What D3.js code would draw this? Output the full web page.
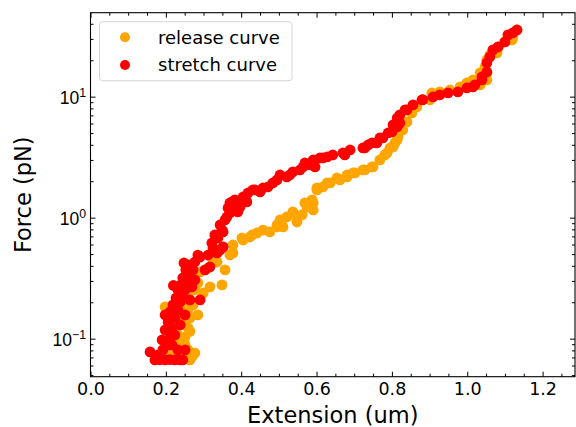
<!DOCTYPE html>
<html>
<head>
<meta charset="utf-8">
<script src="https://cdn.jsdelivr.net/npm/d3@7"></script>
<style>
  body { margin: 0; background: #fff; }
  svg { display: block; font-family: "DejaVu Sans", sans-serif; }
</style>
</head>
<body>
<svg width="576" height="427"></svg>
<script>
// release curve (orange), extension in um, force in pN
const releaseExt = [0.184, 0.198, 0.211, 0.224, 0.238, 0.251, 0.264, 0.269,
  0.206, 0.224, 0.245, 0.211, 0.232, 0.251, 0.224, 0.243, 0.259, 0.198, 0.232, 0.264,
  0.285, 0.251, 0.272, 0.238, 0.259, 0.277, 0.264, 0.285, 0.317, 0.349, 0.291, 0.312,
  0.336, 0.322, 0.357, 0.370, 0.378, 0.378, 0.402, 0.405, 0.423, 0.429, 0.442, 0.476,
  0.495, 0.495, 0.511, 0.503, 0.521, 0.537, 0.548, 0.548, 0.569, 0.575, 0.588, 0.591,
  0.591, 0.601, 0.601, 0.617, 0.628, 0.636, 0.654, 0.662, 0.681, 0.681, 0.697, 0.702,
  0.723, 0.728, 0.747, 0.750, 0.768, 0.781, 0.787, 0.795, 0.803, 0.808, 0.814, 0.816,
  0.829, 0.840, 0.853, 0.866, 0.880, 0.901, 0.906, 0.927, 0.933, 0.954, 0.981, 0.999,
  1.002, 1.015, 1.034, 1.034, 1.047, 1.052, 1.052, 1.052, 1.060, 1.079, 1.082, 1.100,
  1.119, 1.121, 1.132,
  0.216, 0.238, 0.259, 0.251, 0.238, 0.299, 0.259, 0.211, 0.264, 0.277, 0.458, 0.562];
const releaseForce = [0.0706, 0.0706, 0.0702, 0.0706, 0.0708, 0.0706, 0.0667, 0.0706,
  0.0807, 0.0888, 0.0854, 0.0976, 0.1073, 0.1033, 0.1298, 0.1374, 0.1226, 0.1828, 0.1663, 0.1482,
  0.1571, 0.209, 0.190, 0.253, 0.239, 0.253, 0.306, 0.289, 0.268, 0.278, 0.356, 0.384,
  0.430, 0.464, 0.370, 0.492, 0.511, 0.595, 0.679, 0.654, 0.692, 0.719, 0.747, 0.762,
  0.870, 0.838, 0.838, 0.957, 1.013, 1.115, 0.921, 0.957, 1.323, 1.226, 1.401, 1.323,
  1.158, 1.694, 1.760, 1.793, 1.935, 1.935, 2.128, 2.049, 2.170, 2.254, 2.342, 2.342,
  2.479, 2.479, 2.624, 2.624, 2.998, 3.297, 3.425, 3.766, 3.839, 4.143, 4.386, 4.643,
  5.306, 6.180, 7.335, 8.222, 9.391, 9.391, 10.73, 10.94, 10.73, 11.36, 12.03, 12.98,
  12.98, 13.74, 12.49, 15.70, 17.59, 13.74, 15.70, 20.11, 22.12, 22.97, 25.75, 28.32,
  29.42, 31.15, 35.58,
  0.118, 0.0888, 0.0807, 0.0888, 0.190, 0.239, 0.1727, 0.1427, 0.1150, 0.0760, 0.790, 1.060];

// stretch curve (red)
const stretchExt = [0.158, 0.171, 0.184, 0.198, 0.211, 0.224, 0.238, 0.245,
  0.179, 0.192, 0.206, 0.190, 0.211, 0.198, 0.216, 0.206, 0.224, 0.211, 0.232, 0.219,
  0.238, 0.227, 0.245, 0.232, 0.251, 0.240, 0.259, 0.245, 0.264, 0.253, 0.272, 0.259,
  0.277, 0.291, 0.269, 0.291, 0.248, 0.304, 0.317, 0.285, 0.325, 0.336, 0.344, 0.352,
  0.338, 0.352, 0.349, 0.357, 0.362, 0.370, 0.370, 0.376, 0.389, 0.391, 0.397, 0.415,
  0.418, 0.431, 0.450, 0.471, 0.484, 0.503, 0.521, 0.537, 0.556, 0.564, 0.569, 0.583,
  0.591, 0.596, 0.609, 0.617, 0.628, 0.643, 0.670, 0.675, 0.689, 0.723, 0.728, 0.737,
  0.747, 0.760, 0.768, 0.776, 0.790, 0.800, 0.803, 0.814, 0.814, 0.821, 0.821, 0.835,
  0.840, 0.856, 0.880, 0.882, 0.909, 0.927, 0.949, 0.975, 0.999, 1.015, 1.020, 1.039,
  1.039, 1.052, 1.052, 1.060, 1.068, 1.082, 1.100, 1.108, 1.121, 1.132,
  0.198, 0.216, 0.232, 0.251, 0.224, 0.238, 0.251, 0.264, 0.277, 0.312, 0.322, 0.330,
  0.344, 0.365, 0.383, 0.405, 0.437, 0.458, 0.495, 0.529, 0.393, 0.386, 0.220, 0.203];
const stretchForce = [0.0777, 0.0667, 0.0669, 0.0667, 0.0670, 0.0667, 0.0668, 0.0667,
  0.0734, 0.0807, 0.0888, 0.0976, 0.1014, 0.118, 0.1226, 0.1374, 0.1482, 0.1663, 0.1727, 0.190,
  0.201, 0.217, 0.230, 0.253, 0.253, 0.278, 0.289, 0.318, 0.336, 0.370, 0.370, 0.407,
  0.430, 0.473, 0.268, 0.209, 0.422, 0.370, 0.392, 0.491, 0.562, 0.511, 0.541, 0.573,
  0.679, 0.762, 0.791, 0.957, 1.013, 1.094, 1.323, 1.349, 1.349, 1.115, 1.226, 1.349,
  1.600, 1.694, 1.631, 1.793, 1.935, 2.254, 2.170, 2.387, 2.479, 2.624, 2.832, 2.726,
  2.998, 2.624, 3.114, 3.114, 3.174, 3.297, 3.425, 3.297, 3.626, 3.766, 3.766, 3.987,
  4.143, 4.143, 4.556, 4.556, 5.012, 5.108, 5.837, 5.620, 6.668, 7.062, 6.063, 7.765,
  7.765, 8.540, 9.391, 9.45, 9.94, 10.33, 10.73, 10.94, 11.80, 12.03, 12.49, 13.74,
  14.55, 16.00, 19.0, 21.29, 24.32, 25.75, 28.32, 32.36, 33.61, 35.58,
  0.157, 0.0888, 0.0807, 0.0807, 0.1073, 0.1298, 0.157, 0.209, 0.306, 0.491, 0.618, 0.719,
  0.870, 1.203, 1.401, 1.483, 1.694, 1.760, 2.049, 2.254, 1.180, 1.260, 0.275, 0.120];

const xTicks = [0.0, 0.2, 0.4, 0.6, 0.8, 1.0, 1.2];
const xTickLabels = ["0.0", "0.2", "0.4", "0.6", "0.8", "1.0", "1.2"];
const yTicks = [0.1, 1, 10];
const yTickExp = ["\u22121", "0", "1"];
const seriesNames = ["release curve", "stretch curve"];
const seriesColors = ["orange", "red"];

let width = 576, height = 427;
let margin = { top: 12.7, bottom: 50.3, left: 90.5, right: 1 };

let svg = d3.select('svg');

let xScale = d3.scaleLinear()
    .domain([0, 1.286])
    .range([margin.left, width - margin.right]);

let yScale = d3.scaleLog()
    .domain([0.0485, 49.4])
    .range([height - margin.bottom, margin.top]);

let plotBottom = height - margin.bottom;
let plotRight = width - margin.right;

// minor tick positions
let xMinor = d3.range(0.05, 1.286, 0.05).filter(v => Math.abs(v / 0.2 - Math.round(v / 0.2)) > 1e-6);
let yMinor = [];
[-2, -1, 0, 1].forEach(e => {
    for (let k = 2; k <= 9; k++) {
        let v = k * Math.pow(10, e);
        if (v > 0.0485 && v < 49.4) yMinor.push(v);
    }
});

function noDomain(g) { g.select('.domain').remove(); }

// bottom axis
svg.append('g')
    .attr('transform', `translate(0, ${plotBottom})`)
    .call(d3.axisBottom(xScale).tickValues(xMinor).tickSize(-3).tickFormat(''))
    .call(noDomain);
let xAxis = svg.append('g')
    .attr('transform', `translate(0, ${plotBottom})`)
    .call(d3.axisBottom(xScale).tickValues(xTicks).tickSize(-5).tickPadding(6)
        .tickFormat((d, i) => xTickLabels[i]))
    .call(noDomain);
xAxis.selectAll('text').style('font-size', '17.5px').attr('fill', '#000')
    .style('font-family', '"DejaVu Sans", sans-serif');

// top axis (ticks only)
svg.append('g')
    .attr('transform', `translate(0, ${margin.top})`)
    .call(d3.axisTop(xScale).tickValues(xMinor).tickSize(-3).tickFormat(''))
    .call(noDomain);
svg.append('g')
    .attr('transform', `translate(0, ${margin.top})`)
    .call(d3.axisTop(xScale).tickValues(xTicks).tickSize(-5).tickFormat(''))
    .call(noDomain);

// left axis
svg.append('g')
    .attr('transform', `translate(${margin.left}, 0)`)
    .call(d3.axisLeft(yScale).tickValues(yMinor).tickSize(-3).tickFormat(''))
    .call(noDomain);
let yAxis = svg.append('g')
    .attr('transform', `translate(${margin.left}, 0)`)
    .call(d3.axisLeft(yScale).tickValues(yTicks).tickSize(-5).tickFormat(''))
    .call(noDomain);
yAxis.selectAll('.tick').each(function(d, i) {
    let t = d3.select(this).append('text')
        .attr('x', -4.5)
        .attr('y', 7)
        .attr('text-anchor', 'end')
        .attr('fill', '#000')
        .style('font-size', '17.5px');
    t.append('tspan').text('10');
    t.append('tspan').attr('dy', -7.5).style('font-size', '12.3px').text(yTickExp[i]);
});

// right axis (ticks only)
svg.append('g')
    .attr('transform', `translate(${plotRight}, 0)`)
    .call(d3.axisRight(yScale).tickValues(yMinor).tickSize(-3).tickFormat(''))
    .call(noDomain);
svg.append('g')
    .attr('transform', `translate(${plotRight}, 0)`)
    .call(d3.axisRight(yScale).tickValues(yTicks).tickSize(-5).tickFormat(''))
    .call(noDomain);

svg.selectAll('.tick line').attr('stroke', '#000').attr('stroke-width', 1);

// data
let release = releaseExt.map((e, i) => ({ x: e, y: releaseForce[i] }));
let stretch = stretchExt.map((e, i) => ({ x: e, y: stretchForce[i] }));

[release, stretch].forEach((data, k) => {
    svg.append('g').selectAll('circle')
        .data(data)
        .enter()
        .append('circle')
        .attr('cx', d => xScale(d.x))
        .attr('cy', d => yScale(d.y))
        .attr('r', 5.4)
        .attr('fill', seriesColors[k]);
});

// spines
svg.append('rect')
    .attr('x', margin.left)
    .attr('y', margin.top)
    .attr('width', plotRight - margin.left)
    .attr('height', plotBottom - margin.top)
    .attr('fill', 'none')
    .attr('stroke', '#000')
    .attr('stroke-width', 1.1);

// axis labels
svg.append('text')
    .attr('x', (margin.left + plotRight) / 2)
    .attr('y', 423)
    .attr('text-anchor', 'middle')
    .style('font-size', '22.5px')
    .text('Extension (um)');

svg.append('text')
    .attr('transform', `translate(31, ${(margin.top + plotBottom) / 2}) rotate(-90)`)
    .attr('text-anchor', 'middle')
    .style('font-size', '22.5px')
    .text('Force (pN)');

// legend
let legend = svg.append('g');
legend.append('rect')
    .attr('x', 99.5).attr('y', 21.7)
    .attr('width', 192.5).attr('height', 59)
    .attr('rx', 3)
    .attr('fill', '#fff')
    .attr('fill-opacity', 0.8)
    .attr('stroke', '#d6d6d6')
    .attr('stroke-width', 1);
seriesNames.forEach((name, i) => {
    legend.append('circle')
        .attr('cx', 125)
        .attr('cy', 37.3 + i * 27.7)
        .attr('r', 5)
        .attr('fill', seriesColors[i]);
    legend.append('text')
        .attr('x', 158)
        .attr('y', 43.5 + i * 27.7)
        .style('font-size', '18px')
        .text(name);
});
</script>
</body>
</html>
